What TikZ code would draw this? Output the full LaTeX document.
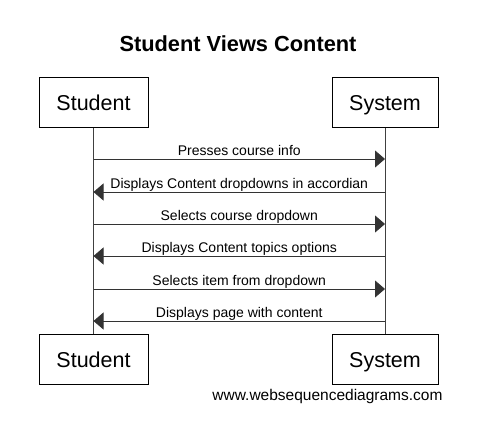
\documentclass[tikz,border=0pt]{standalone}
\usepackage{fontspec}
\setmainfont{Liberation Sans}
\usetikzlibrary{arrows.meta}
\begin{document}
\begin{tikzpicture}[x=1pt,y=-1pt,
  actor/.style={draw=black, line width=0.8pt, fill=white, minimum width=108pt,
    minimum height=50pt, inner sep=0pt, font=\fontsize{21.5}{24}\selectfont,
    text height=15.5pt, text depth=0pt},
  lifeline/.style={draw=black!75, line width=0.8pt},
  msg/.style={draw=black!80, line width=0.8pt, -{Triangle[length=10pt,width=17pt]}},
  msglabel/.style={midway, anchor=base, yshift=4pt, inner sep=0pt,
    font=\fontsize{14}{16}\selectfont}]
  \useasboundingbox (0,0) rectangle (496,436);

  % title
  \node[anchor=base, font=\bfseries\fontsize{21.8}{24}\selectfont] (title) at (238,52) {Student Views Content};

  % participants, top and bottom
  \node[actor, minimum width=109pt] (st) at (93.5,102.5) {Student};
  \node[actor, minimum width=106pt] (sy) at (385,102.5) {System};
  \node[actor, minimum width=109pt] (sb) at (93.5,359.5) {Student};
  \node[actor, minimum width=106pt] (yb) at (385,359.5) {System};

  % lifelines
  \draw[lifeline] (st.south) -- (sb.north);
  \draw[lifeline] (sy.south) -- (yb.north);

  % message anchor points on each lifeline
  \foreach \i/\y in {1/159,2/192,3/224,4/256,5/289,6/321}{
    \coordinate (s\i) at (93.5,\y);
    \coordinate (y\i) at (385,\y);
  }

  % messages
  \draw[msg] (s1) -- node[msglabel]{Presses course info} (y1);
  \draw[msg] (y2) -- node[msglabel]{Displays Content dropdowns in accordian} (s2);
  \draw[msg] (s3) -- node[msglabel]{Selects course dropdown} (y3);
  \draw[msg] (y4) -- node[msglabel]{Displays Content topics options} (s4);
  \draw[msg] (s5) -- node[msglabel]{Selects item from dropdown} (y5);
  \draw[msg] (y6) -- node[msglabel]{Displays page with content} (s6);

  % footer
  \node[anchor=base, font=\fontsize{15.5}{18}\selectfont] (footer) at (327.5,400) {www.websequencediagrams.com};
\end{tikzpicture}
\end{document}
